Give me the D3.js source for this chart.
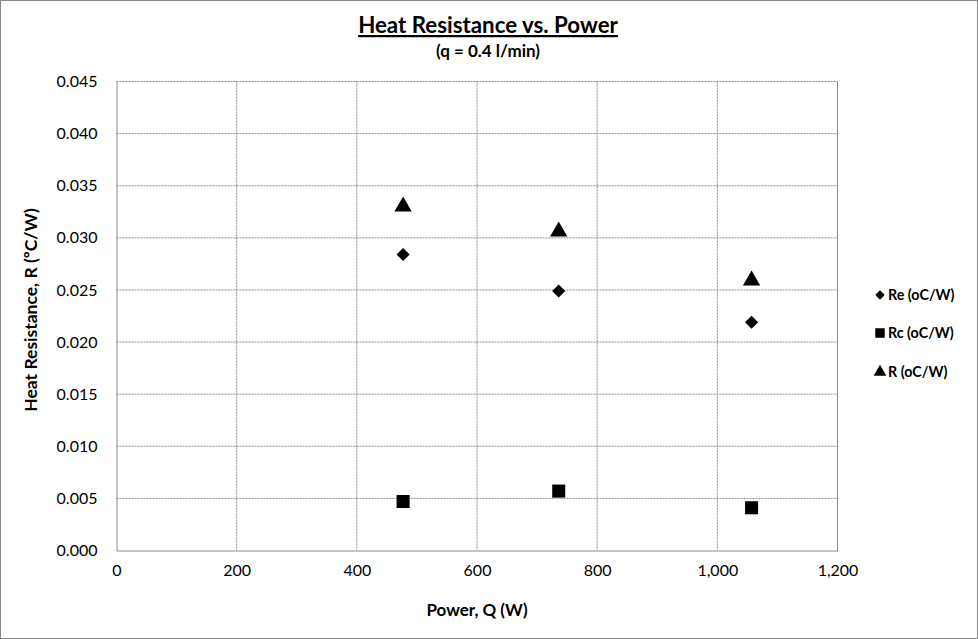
<!DOCTYPE html>
<html><head><meta charset="utf-8">
<script src="https://cdn.jsdelivr.net/npm/d3@7"></script>
<style>body{margin:0;background:#fff}svg{display:block}text{font-family:Lato,"Open Sans",sans-serif}</style>
</head><body>
<svg id="c" width="978" height="639"></svg>
<script>
const power = [477, 736, 1057];
const reValues = [0.0284, 0.0249, 0.0219];
const rcValues = [0.0047, 0.0057, 0.0041];
const rValues = [0.0330, 0.0306, 0.0259];
const seriesNames = ["Re (oC/W)", "Rc (oC/W)", "R (oC/W)"];
const xTicks = [0, 200, 400, 600, 800, 1000, 1200];
const yTicks = [0, 0.005, 0.01, 0.015, 0.02, 0.025, 0.03, 0.035, 0.04, 0.045];

const svg = d3.select("#c");
svg.append("rect").attr("x",0.5).attr("y",0.5).attr("width",977).attr("height",638).attr("fill","#fff").attr("stroke","#888");

const L=116.5, R=837.5, T=81.5, B=550.5;
const x = d3.scaleLinear().domain([0,1200]).range([L,R]);
const y = d3.scaleLinear().domain([0,0.045]).range([B,T]);

// gridlines
svg.append("g").selectAll("line").data(xTicks.slice(1)).join("line")
  .attr("x1",d=>x(d)).attr("x2",d=>x(d)).attr("y1",T).attr("y2",B)
  .attr("stroke","#8c8c8c").attr("stroke-dasharray","2,1");
svg.append("g").selectAll("line").data(yTicks.slice(1)).join("line")
  .attr("x1",L).attr("x2",R).attr("y1",d=>y(d)).attr("y2",d=>y(d))
  .attr("stroke","#8c8c8c").attr("stroke-dasharray","2,1");
svg.append("line").attr("x1",R).attr("x2",R).attr("y1",T).attr("y2",B).attr("stroke","#8c8c8c");

// axes
const xAxis = svg.append("g").attr("transform",`translate(0,${B})`)
  .call(d3.axisBottom(x).tickValues(xTicks).tickFormat(d3.format(",")).tickSize(0).tickPadding(14));
const yAxis = svg.append("g").attr("transform",`translate(${L},0)`)
  .call(d3.axisLeft(y).tickValues(yTicks).tickFormat(d3.format(".3f")).tickSize(0).tickPadding(19));
[xAxis,yAxis].forEach(a=>{
  a.select(".domain").attr("stroke","#8c8c8c");
  a.selectAll("text").attr("font-size",16).attr("fill","#000").style("font-family","Lato,'Open Sans',sans-serif");
});

// markers
const sym = {
  diamond: d3.symbol().type(d3.symbolDiamond2).size(110),
  square: d3.symbol().type(d3.symbolSquare).size(170),
  triangle: d3.symbol().type(d3.symbolTriangle).size(130)
};
const series = [
  {vals: reValues, s: sym.diamond},
  {vals: rcValues, s: sym.square},
  {vals: rValues, s: sym.triangle}
];
series.forEach(se=>{
  svg.append("g").selectAll("path").data(power).join("path")
    .attr("d", se.s).attr("transform",(d,i)=>`translate(${x(d)},${y(se.vals[i])})`).attr("fill","#000");
});

// legend
const legY = [295, 333, 372];
const legSym = [d3.symbol().type(d3.symbolDiamond2).size(55), d3.symbol().type(d3.symbolSquare).size(90), d3.symbol().type(d3.symbolTriangle).size(70)];
seriesNames.forEach((n,i)=>{
  svg.append("path").attr("d",legSym[i]).attr("transform",`translate(880,${legY[i]})`).attr("fill","#000");
  svg.append("text").attr("x",888).attr("y",legY[i]+5).attr("font-size",14.3).attr("font-weight","bold").text(n);
});

// titles
svg.append("text").attr("x",488).attr("y",33).attr("text-anchor","middle").attr("font-size",22.3).attr("font-weight","bold")
  .attr("text-decoration","underline").text("Heat Resistance vs. Power");
svg.append("text").attr("x",488).attr("y",57).attr("text-anchor","middle").attr("font-size",17).attr("font-weight","bold").text("(q = 0.4 l/min)");
svg.append("text").attr("x",477).attr("y",616).attr("text-anchor","middle").attr("font-size",17).attr("font-weight","bold").text("Power, Q (W)");
svg.append("text").attr("transform","translate(37,310) rotate(-90)").attr("text-anchor","middle").attr("font-size",17.5).attr("font-weight","bold").text("Heat Resistance, R (ºC/W)");
</script>
</body></html>
